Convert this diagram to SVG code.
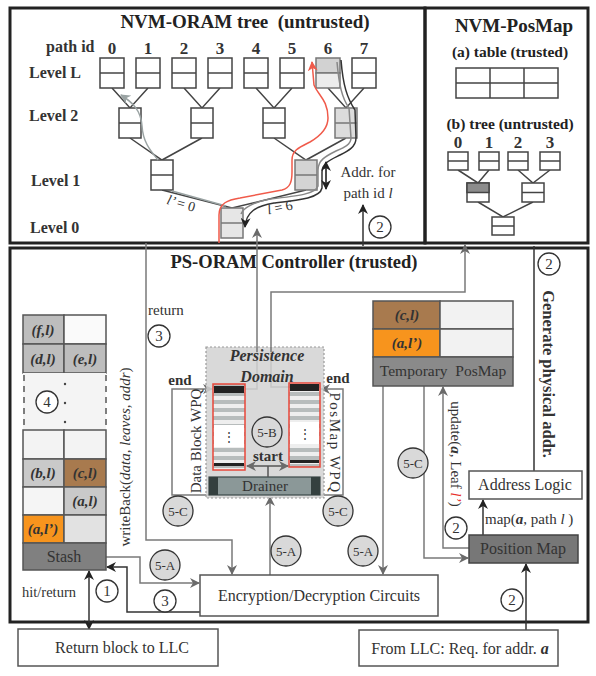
<svg xmlns="http://www.w3.org/2000/svg" width="596" height="676" viewBox="0 0 596 676">
<style>
text{font-family:"Liberation Serif","Times New Roman",serif;fill:#333}
.frame{fill:none;stroke:#222;stroke-width:3}
.nb{fill:#fff;stroke:#444;stroke-width:1.5}
.ng{stroke:#777;stroke-width:1.5}
.edge{stroke:#444;stroke-width:1.5;fill:none}
.cell{stroke:#555;stroke-width:1.5}
.ct{font-size:15px;font-weight:bold;font-style:italic;text-anchor:middle}
.box{fill:#fff;stroke:#555;stroke-width:1.5}
.num{fill:#fff;stroke:#333;stroke-width:1.3}
.step{fill:#d9d9d9;stroke:#333;stroke-width:1.3}
.nt{font-size:15px;text-anchor:middle}
.st{font-size:13px;text-anchor:middle}
.gl{stroke:#7a7a7a;stroke-width:1.5;fill:none}
.dl{stroke:#333;stroke-width:1.5;fill:none}
.bt{font-weight:bold;fill:#222}
.lv{font-size:16px;font-weight:bold;fill:#333}
.pn{font-size:17px;font-weight:bold;fill:#333;text-anchor:middle}
</style>
<defs>
<marker id="ad" markerWidth="10" markerHeight="10" refX="9" refY="5" orient="auto-start-reverse" markerUnits="userSpaceOnUse"><path d="M0,0 L10,5 L0,10 L3,5 z" fill="#222"/></marker>
<marker id="ag" markerWidth="10" markerHeight="10" refX="9" refY="5" orient="auto-start-reverse" markerUnits="userSpaceOnUse"><path d="M0,0 L10,5 L0,10 L3,5 z" fill="#6a6a6a"/></marker>
<marker id="agl" markerWidth="10" markerHeight="10" refX="9" refY="5" orient="auto-start-reverse" markerUnits="userSpaceOnUse"><path d="M0,0 L10,5 L0,10 L3,5 z" fill="#9aa3a3"/></marker>
<marker id="ar" markerWidth="10" markerHeight="10" refX="9" refY="5" orient="auto-start-reverse" markerUnits="userSpaceOnUse"><path d="M0,0 L10,5 L0,10 L3,5 z" fill="#f05a4a"/></marker>
<pattern id="stripes" width="8" height="8" patternUnits="userSpaceOnUse"><rect width="8" height="4" fill="#b7bcbc"/><rect y="4" width="8" height="4" fill="#eeeeee"/></pattern>
</defs>

<!-- frames -->
<g id="frames">
<rect class="frame" x="10" y="8" width="415" height="235" fill="#fff"/>
<rect class="frame" x="425" y="8" width="163" height="235"/>
<rect class="frame" x="10" y="248" width="578" height="374"/>
</g>

<!-- NVM-ORAM tree -->
<g id="oram-tree">
<text class="bt" x="245" y="28" font-size="19" text-anchor="middle" xml:space="preserve">NVM-ORAM tree  (untrusted)</text>
<text class="lv" x="46" y="52">path id</text>
<text class="pn" x="112" y="54">0</text><text class="pn" x="148" y="54">1</text><text class="pn" x="184" y="54">2</text><text class="pn" x="220" y="54">3</text>
<text class="pn" x="256" y="54">4</text><text class="pn" x="292" y="54">5</text><text class="pn" x="328" y="54">6</text><text class="pn" x="364" y="54">7</text>
<text class="lv" x="29" y="78">Level L</text>
<text class="lv" x="29" y="121">Level 2</text>
<text class="lv" x="31" y="186">Level 1</text>
<text class="lv" x="30" y="233">Level 0</text>
<g id="tree-edges">
<path class="edge" d="M112,88L130,108L148,88M184,88L202,108L220,88M256,88L274,108L292,88M328,88L346,108L364,88M130,138L162,160L202,138M274,138L306,160L346,138M162,190L232,208L306,190"/>
</g>
<g id="leaf0"><rect class="nb" x="100" y="58" width="24" height="30"/><line class="edge" x1="100" y1="73" x2="124" y2="73"/></g>
<g id="leaf1"><rect class="nb" x="136" y="58" width="24" height="30"/><line class="edge" x1="136" y1="73" x2="160" y2="73"/></g>
<g id="leaf2"><rect class="nb" x="172" y="58" width="24" height="30"/><line class="edge" x1="172" y1="73" x2="196" y2="73"/></g>
<g id="leaf3"><rect class="nb" x="208" y="58" width="24" height="30"/><line class="edge" x1="208" y1="73" x2="232" y2="73"/></g>
<g id="leaf4"><rect class="nb" x="244" y="58" width="24" height="30"/><line class="edge" x1="244" y1="73" x2="268" y2="73"/></g>
<g id="leaf5"><rect class="nb" x="280" y="58" width="24" height="30"/><line class="edge" x1="280" y1="73" x2="304" y2="73"/></g>
<g id="leaf6"><rect class="ng" x="316" y="58" width="24" height="15" fill="#d2d2d2"/><rect class="ng" x="316" y="73" width="24" height="15" fill="#ececec"/></g>
<g id="leaf7"><rect class="nb" x="352" y="58" width="24" height="30"/><line class="edge" x1="352" y1="73" x2="376" y2="73"/></g>
<g id="l2-0"><rect class="nb" x="119" y="108" width="22" height="30"/><line class="edge" x1="119" y1="123" x2="141" y2="123"/></g>
<g id="l2-1"><rect class="nb" x="191" y="108" width="22" height="30"/><line class="edge" x1="191" y1="123" x2="213" y2="123"/></g>
<g id="l2-2"><rect class="nb" x="263" y="108" width="22" height="30"/><line class="edge" x1="263" y1="123" x2="285" y2="123"/></g>
<g id="l2-3"><rect class="ng" x="335" y="108" width="22" height="30" fill="#dcdcdc"/><line class="ng" x1="335" y1="123" x2="357" y2="123"/></g>
<g id="l1-0"><rect class="nb" x="151" y="160" width="22" height="30"/><line class="edge" x1="151" y1="175" x2="173" y2="175"/></g>
<g id="l1-1"><rect class="ng" x="295" y="160" width="22" height="30" fill="#d4d4d4"/><line class="ng" x1="295" y1="175" x2="317" y2="175"/></g>
<g id="root"><rect class="ng" x="221" y="208" width="22" height="30" fill="#e6e6e6"/><line class="ng" x1="221" y1="223" x2="243" y2="223"/></g>
<text x="181" y="208" font-size="14" fill="#8a9090" font-style="italic" text-anchor="middle" transform="rotate(16 181 204)">l’ <tspan font-style="normal">= 0</tspan></text>
<text x="280" y="212" font-size="14" fill="#666" font-style="italic" text-anchor="middle" transform="rotate(-12 280 208)">l <tspan font-style="normal">= 6</tspan></text>
<text x="368" y="177" font-size="15" text-anchor="middle">Addr. for</text>
<text x="368" y="198" font-size="15" text-anchor="middle">path id <tspan font-style="italic">l</tspan></text>
</g>

<!-- NVM-PosMap -->
<g id="nvm-posmap">
<text class="bt" x="514" y="32" font-size="19" text-anchor="middle">NVM-PosMap</text>
<text class="bt" x="510" y="57" font-size="15.5" text-anchor="middle">(a) table (trusted)</text>
<g id="pm-table"><rect class="nb" x="456" y="68" width="102" height="30"/><path class="edge" d="M456,83H558M490,68V98M524,68V98"/></g>
<text class="bt" x="510" y="129" font-size="15.5" text-anchor="middle">(b) tree (untrusted)</text>
<text class="pn" font-size="16" x="458" y="148">0</text><text class="pn" font-size="16" x="489" y="148">1</text><text class="pn" font-size="16" x="518" y="148">2</text><text class="pn" font-size="16" x="550" y="148">3</text>
<path class="edge" d="M458,170L478,183L489,170M518,170L533,183L550,170M478,202L503,217L533,202"/>
<g id="pm-leaf0"><rect class="nb" x="448" y="152" width="20" height="18"/><line class="edge" x1="448" y1="161" x2="468" y2="161"/></g>
<g id="pm-leaf1"><rect class="nb" x="479" y="152" width="20" height="18"/><line class="edge" x1="479" y1="161" x2="499" y2="161"/></g>
<g id="pm-leaf2"><rect class="nb" x="508" y="152" width="20" height="18"/><line class="edge" x1="508" y1="161" x2="528" y2="161"/></g>
<g id="pm-leaf3"><rect class="nb" x="540" y="152" width="20" height="18"/><line class="edge" x1="540" y1="161" x2="560" y2="161"/></g>
<g id="pm-l1-0"><rect class="nb" x="467" y="183" width="22" height="19"/><rect x="467" y="183" width="22" height="9.5" fill="#8c8c8c" stroke="#444" stroke-width="1.5"/></g>
<g id="pm-l1-1"><rect class="nb" x="522" y="183" width="22" height="19"/><line class="edge" x1="522" y1="192.5" x2="544" y2="192.5"/></g>
<g id="pm-root"><rect class="nb" x="492" y="217" width="22" height="18"/><line class="edge" x1="492" y1="226" x2="514" y2="226"/></g>
</g>

<!-- Controller -->
<g id="controller-title">
<text class="bt" x="294" y="268" font-size="18.5" text-anchor="middle">PS-ORAM Controller (trusted)</text>
</g>

<!-- connectors -->
<g id="connectors">
<!-- tree paths -->
<path d="M226,206 L172,191" stroke="#9aa3a3" stroke-width="1.5" fill="none"/>
<path d="M158,160 C150,150 143,142 142,126 C141,110 132,102 121,95" stroke="#9aa3a3" stroke-width="1.5" fill="none" marker-end="url(#agl)"/>
<path d="M219,243 L219,215 C219,203 228,200 240,198 L282,190 C290,188 292,182 292,172 L292,160 C292,150 300,147 310,142 C322,135 328,128 328,118 C328,100 318,95 314,85 L312,62" stroke="#f05a4a" stroke-width="1.5" fill="none" marker-end="url(#ar)"/>
<path d="M337,62 C339,85 342,98 349,108 L351,138 C351,145 343,148 336,151 C326,156 318,160 318,170 L318,186 C316,194 298,196 270,199 C254,202 243,208 241,214" stroke="#888" stroke-width="1.5" fill="none"/>
<path d="M341,60 C343,85 347,98 355,110 L356,138 C356,147 348,151 340,155 C330,160 322,163 322,172 L322,188 C320,198 300,200 274,203 C256,206 246,212 245,227" stroke="#333" stroke-width="1.5" fill="none" marker-end="url(#ad)"/>
<line x1="326" y1="162" x2="326" y2="189" stroke="#111" stroke-width="1.5" marker-start="url(#ad)" marker-end="url(#ad)"/>
<!-- addr for path id -->
<line class="dl" x1="534" y1="471" x2="534" y2="246"/>
<line class="dl" x1="363" y1="246" x2="363" y2="205" marker-end="url(#ad)"/>
<!-- return path -->
<path class="gl" d="M146,243 V540 H232 V574" marker-end="url(#ag)"/>
<!-- data block WPQ to tree -->
<path class="gl" d="M245,389 H257 V229" marker-end="url(#ag)"/>
<!-- posmap WPQ to NVM-PosMap -->
<path class="gl" d="M290,387 H271 V292 H465 V245" marker-end="url(#ag)"/>
<!-- WPQ label loops -->
<path class="gl" d="M210,495 H172 V389 H212" marker-end="url(#ag)"/>
<path class="gl" d="M320,495 H343 V389 H321" marker-end="url(#ag)"/>
<!-- encryption to drainer -->
<line class="gl" x1="270" y1="575" x2="270" y2="497" marker-end="url(#ag)"/>
<!-- temp posmap to encryption -->
<line class="gl" x1="383" y1="386" x2="383" y2="574" marker-end="url(#ag)"/>
<!-- temp posmap to position map -->
<path class="gl" d="M424,386 V558 H468" marker-end="url(#ag)"/>
<!-- update -->
<path class="gl" d="M469,548 H443 V387" marker-end="url(#ag)"/>
<!-- position map to address logic -->
<line class="dl" x1="483" y1="535" x2="483" y2="500" marker-end="url(#ad)"/>
<!-- From LLC to position map -->
<line class="dl" x1="526" y1="630" x2="526" y2="564" marker-end="url(#ad)"/>
<!-- stash to encryption -->
<path class="gl" d="M106,557 H140 V583 H199" marker-end="url(#ag)"/>
<!-- encryption to stash -->
<path class="dl" d="M200,612 H127 V567 H107" marker-end="url(#ad)"/>
<!-- hit/return -->
<line class="dl" x1="89" y1="571" x2="89" y2="629" marker-start="url(#ad)" marker-end="url(#ad)"/>
</g>

<!-- Stash -->
<g id="stash">
<rect class="cell" x="23" y="315" width="41" height="29" fill="#bdbdbd"/><rect class="cell" x="64" y="315" width="42" height="29" fill="#fafafa"/>
<rect class="cell" x="23" y="344" width="41" height="29" fill="#bdbdbd"/><rect class="cell" x="64" y="344" width="42" height="29" fill="#bdbdbd"/>
<rect x="23" y="373" width="83" height="57" fill="#f4f4f4"/>
<path d="M24,375V430M106,375V430" stroke="#555" stroke-width="1.5" stroke-dasharray="6,5"/>
<circle cx="65" cy="384" r="1.2" fill="#444"/><circle cx="65" cy="403" r="1.2" fill="#444"/><circle cx="65" cy="422" r="1.2" fill="#444"/>
<rect class="cell" x="23" y="430" width="41" height="29" fill="#f3f3f3"/><rect class="cell" x="64" y="430" width="42" height="29" fill="#f3f3f3"/>
<rect class="cell" x="23" y="459" width="41" height="28" fill="#c9c9c9"/><rect class="cell" x="64" y="459" width="42" height="28" fill="#a87a4e"/>
<rect class="cell" x="23" y="487" width="41" height="28" fill="#f5f5f5"/><rect class="cell" x="64" y="487" width="42" height="28" fill="#c9c9c9"/>
<rect class="cell" x="23" y="515" width="41" height="28" fill="#f7941d"/><rect class="cell" x="64" y="515" width="42" height="28" fill="#e2e2e2"/>
<rect class="cell" x="23" y="543" width="83" height="27" fill="#808080"/>
<text class="ct" x="43" y="335">(f,l)</text>
<text class="ct" x="43" y="364">(d,l)</text><text class="ct" x="85" y="364">(e,l)</text>
<text class="ct" x="43" y="478">(b,l)</text><text class="ct" x="85" y="478">(c,l)</text>
<text class="ct" x="85" y="506">(a,l)</text>
<text class="ct" x="43" y="534">(a,l’)</text>
<text x="64" y="562" font-size="16" text-anchor="middle" fill="#222">Stash</text>
</g>
<text x="130" y="457" font-size="15" text-anchor="middle" transform="rotate(-90 130 457)">writeBack(<tspan font-style="italic">data, leaves, addr</tspan>)</text>
<text x="148" y="315" font-size="15">return</text>
<text x="22" y="597" font-size="14.5">hit/return</text>

<!-- Persistence domain -->
<g id="persistence-domain">
<rect x="206" y="347" width="118" height="151" fill="#d2d2d2" fill-opacity="0.85" stroke="#9a9a9a" stroke-width="1.2" stroke-dasharray="2,2"/>
<text x="267" y="361" font-size="16" font-style="italic" font-weight="bold" fill="#444" text-anchor="middle">Persistence</text>
<text x="267" y="382" font-size="16" font-style="italic" font-weight="bold" fill="#444" text-anchor="middle">Domain</text>
<line class="gl" x1="257" y1="347" x2="257" y2="352"/>
<line class="gl" x1="271" y1="347" x2="271" y2="352"/>
</g>
<g id="wpq-data">
<rect x="213" y="384" width="32" height="86" fill="url(#stripes)" stroke="#e8473a" stroke-width="1.5"/>
<rect x="214" y="386" width="30" height="7" fill="#222"/>
<rect x="214" y="425" width="30" height="22" fill="#fff"/>
<text x="229" y="441" font-size="12" text-anchor="middle" fill="#444">⋮</text>
<rect x="214" y="463" width="30" height="3" fill="#222"/>
</g>
<g id="wpq-posmap">
<rect x="289" y="383" width="31" height="84" fill="url(#stripes)" stroke="#e8473a" stroke-width="1.5"/>
<rect x="290" y="384" width="29" height="7" fill="#222"/>
<rect x="290" y="422" width="29" height="22" fill="#fff"/>
<text x="304.5" y="438" font-size="12" text-anchor="middle" fill="#444">⋮</text>
<rect x="290" y="460" width="29" height="3" fill="#222"/>
</g>
<g id="drainer">
<rect x="209" y="477" width="111" height="18" fill="#8b9898" stroke="#3b4848" stroke-width="1.2"/>
<rect x="209" y="477" width="9" height="18" fill="#34403f"/>
<rect x="311" y="477" width="9" height="18" fill="#34403f"/>
<text x="265" y="491" font-size="15" text-anchor="middle" fill="#333">Drainer</text>
</g>
<line x1="247" y1="466" x2="288" y2="466" stroke="#555" stroke-width="1.5" marker-start="url(#ag)" marker-end="url(#ag)"/>
<line x1="268" y1="466" x2="268" y2="477" stroke="#555" stroke-width="1.5"/>
<text x="268" y="461" font-size="15" font-weight="bold" fill="#e8302a" text-anchor="middle">start</text>
<text x="180" y="385" font-size="15" font-weight="bold" fill="#e8302a" text-anchor="middle">end</text>
<text x="338" y="383" font-size="15" font-weight="bold" fill="#e8302a" text-anchor="middle">end</text>
<text x="201" y="441" font-size="15" text-anchor="middle" transform="rotate(-90 201 441)">Data Block WPQ</text>
<text x="330" y="443" font-size="15" text-anchor="middle" letter-spacing="1.5" transform="rotate(90 330 443)">PosMap WPQ</text>

<!-- Temporary PosMap -->
<g id="temp-posmap">
<rect class="cell" x="373" y="301" width="67" height="28" fill="#a87a4e"/><rect class="cell" x="440" y="301" width="73" height="28" fill="#f2f2f2"/>
<rect class="cell" x="373" y="329" width="67" height="28" fill="#f7941d"/><rect class="cell" x="440" y="329" width="73" height="28" fill="#f2f2f2"/>
<rect class="cell" x="373" y="357" width="140" height="29" fill="#8a8a8a"/>
<text class="ct" x="407" y="320">(c,l)</text>
<text class="ct" x="407" y="348">(a,l’)</text>
<text x="443" y="376" font-size="15.5" text-anchor="middle" fill="#333" xml:space="preserve">Temporary  PosMap</text>
</g>
<text x="451" y="454" font-size="15" text-anchor="middle" transform="rotate(90 451 454)">update(<tspan font-weight="bold" font-style="italic">a</tspan>, Leaf <tspan font-style="italic" fill="#e8302a">l’</tspan>)</text>
<text x="543" y="374" font-size="16.5" font-weight="bold" fill="#222" text-anchor="middle" transform="rotate(90 543 374)">Generate physical addr.</text>

<g id="address-logic">
<rect class="box" x="469" y="471" width="113" height="28"/>
<text x="525" y="490" font-size="16" text-anchor="middle">Address Logic</text>
</g>
<text x="485" y="524" font-size="15">map(<tspan font-weight="bold" font-style="italic">a</tspan>, path <tspan font-style="italic">l</tspan> )</text>
<g id="position-map">
<rect x="469" y="535" width="109" height="28" fill="#777" stroke="#444" stroke-width="1.5"/>
<text x="523" y="554" font-size="16" text-anchor="middle" fill="#222">Position Map</text>
</g>
<g id="encryption">
<rect class="box" x="200" y="575" width="238" height="41"/>
<text x="319" y="601" font-size="16" text-anchor="middle">Encryption/Decryption Circuits</text>
</g>
<g id="return-llc">
<rect class="box" x="18" y="629" width="200" height="37"/>
<text x="122" y="653" font-size="16" text-anchor="middle">Return block to LLC</text>
</g>
<g id="from-llc">
<rect class="box" x="359" y="630" width="199" height="36"/>
<text x="460" y="654" font-size="16" text-anchor="middle">From LLC: Req. for addr. <tspan font-weight="bold" font-style="italic">a</tspan></text>
</g>

<!-- step markers -->
<g id="steps">
<circle class="num" cx="380" cy="227" r="11"/><text class="nt" x="380" y="232">2</text>
<circle class="num" cx="159" cy="336" r="11"/><text class="nt" x="159" y="341">3</text>
<circle class="num" cx="47" cy="402" r="11"/><text class="nt" x="47" y="407">4</text>
<circle class="num" cx="107" cy="591" r="11"/><text class="nt" x="107" y="596">1</text>
<circle class="num" cx="165" cy="601" r="11"/><text class="nt" x="165" y="606">3</text>
<circle class="num" cx="512" cy="600" r="11"/><text class="nt" x="512" y="605">2</text>
<circle class="num" cx="456" cy="528" r="11"/><text class="nt" x="456" y="533">2</text>
<circle class="num" cx="549" cy="264" r="11"/><text class="nt" x="549" y="269">2</text>
<circle class="step" cx="267" cy="432" r="15"/><text class="st" x="267" y="437">5-B</text>
<circle class="step" cx="178" cy="511" r="15"/><text class="st" x="178" y="516">5-C</text>
<circle class="step" cx="338" cy="511" r="15"/><text class="st" x="338" y="516">5-C</text>
<circle class="step" cx="413" cy="463" r="15"/><text class="st" x="413" y="468">5-C</text>
<circle class="step" cx="165" cy="565" r="15"/><text class="st" x="165" y="570">5-A</text>
<circle class="step" cx="286" cy="551" r="15"/><text class="st" x="286" y="556">5-A</text>
<circle class="step" cx="363" cy="551" r="15"/><text class="st" x="363" y="556">5-A</text>
</g>
</svg>
